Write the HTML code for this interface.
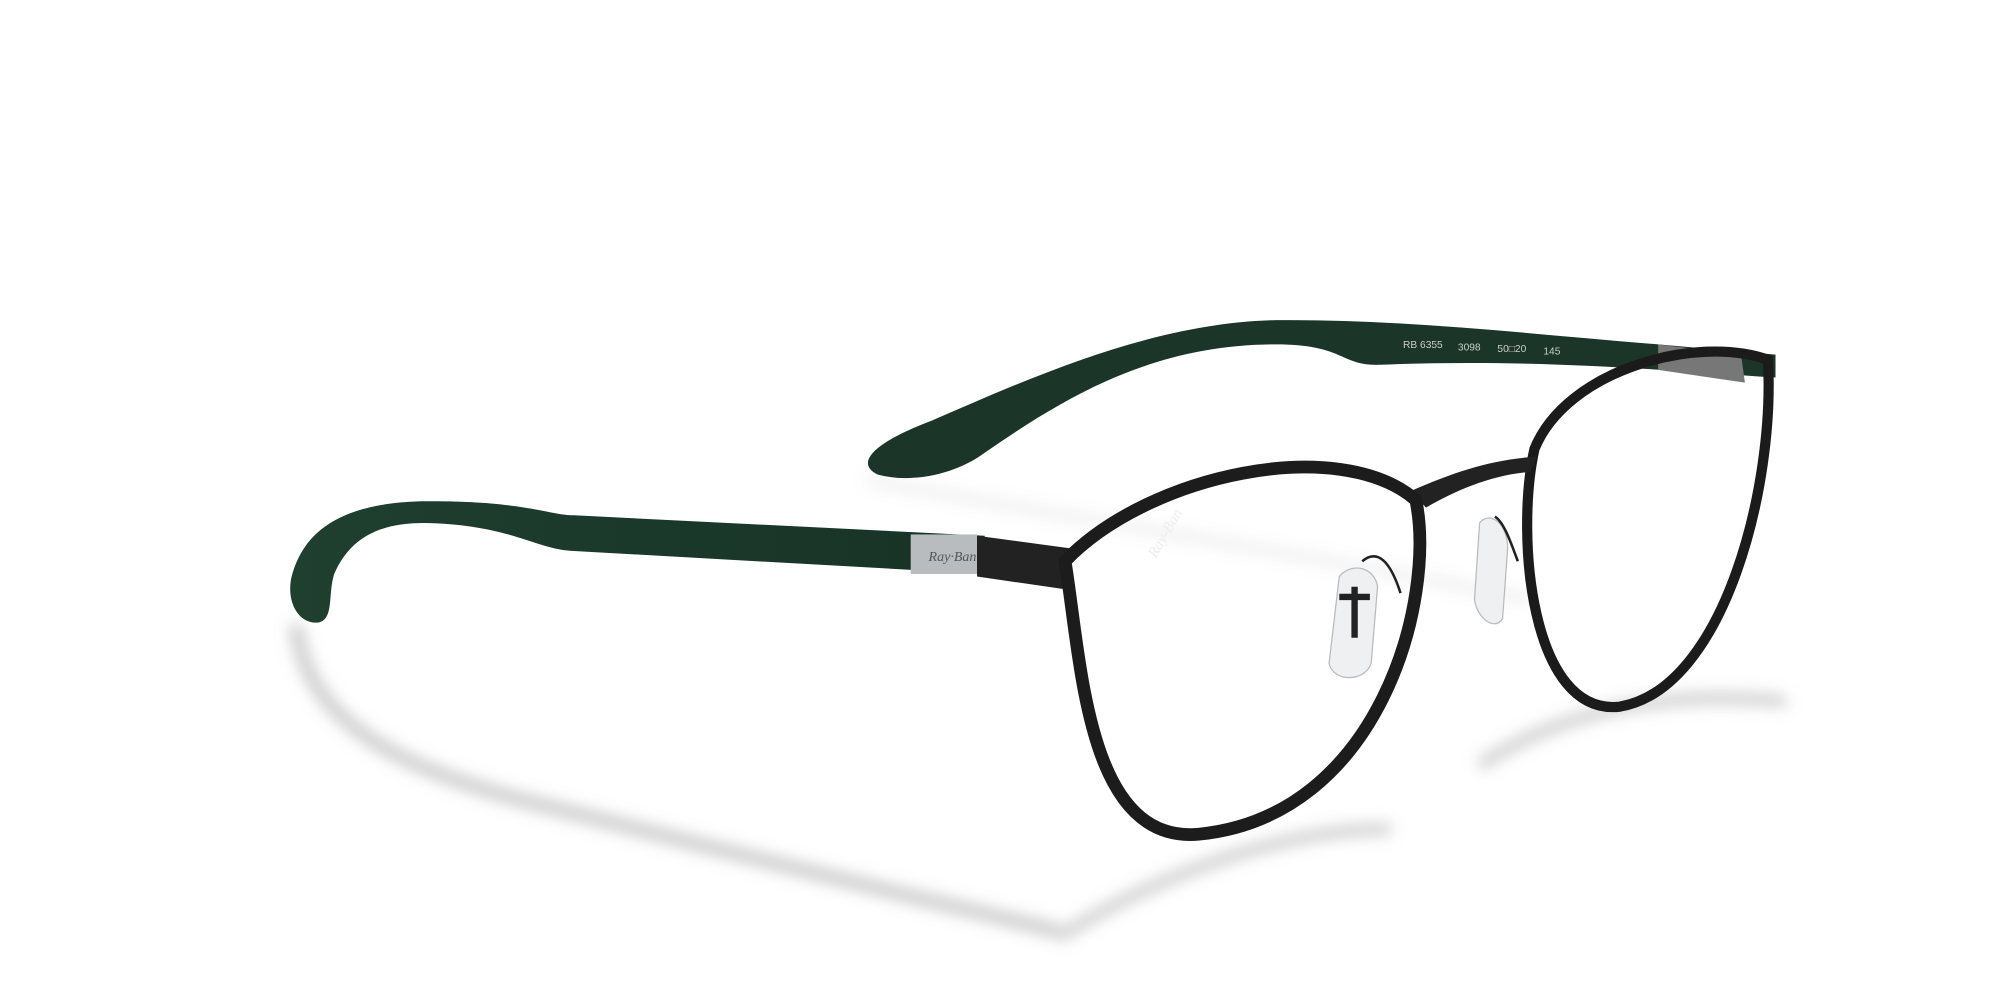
<!DOCTYPE html>
<html><head><style>html,body{margin:0;padding:0;background:#fff;}svg{display:block}</style></head>
<body>
<svg width="2000" height="1000" viewBox="0 0 1568 784" preserveAspectRatio="none" xmlns="http://www.w3.org/2000/svg">
<defs>
<filter id="b" x="-20%" y="-20%" width="140%" height="140%"><feGaussianBlur stdDeviation="6"/></filter>
<filter id="b2" x="-20%" y="-20%" width="140%" height="140%"><feGaussianBlur stdDeviation="3"/></filter>
<linearGradient id="g1" x1="0" y1="0" x2="1" y2="0"><stop offset="0" stop-color="#1f3f2f"/><stop offset="1" stop-color="#173326"/></linearGradient>
</defs>
<rect width="1568" height="784" fill="#fff"/>
<!-- shadows -->
<g filter="url(#b)" fill="none" stroke="#999" stroke-opacity="0.55">
<path d="M232 490 C240 560 300 600 420 630 C560 665 700 700 830 730" stroke-width="10"/>
<path d="M830 735 C900 690 1000 650 1090 650" stroke-width="8"/>
<path d="M1160 600 C1220 560 1300 540 1400 550" stroke-width="8"/>
<path d="M680 376 C800 400 1000 430 1200 470" stroke-width="4" stroke-opacity="0.3"/>
</g>
<!-- far temple -->
<path d="M1392 278 L1300 270 C1200 262 1100 250 1000 251 C900 253 800 300 730 330 C690 345 668 362 688 372 C718 380 752 370 772 355 C830 315 900 270 1000 270 C1055 270 1050 287 1082 286 C1200 281 1300 290 1392 296 Z" fill="#1b3628"/>
<text x="1100" y="273" font-family="Liberation Sans, sans-serif" font-size="8" fill="#ccc">RB 6355</text>
<text x="1143" y="275" font-family="Liberation Sans, sans-serif" font-size="8" fill="#ccc">3098</text>
<text x="1174" y="276" font-family="Liberation Sans, sans-serif" font-size="8" fill="#ccc">50□20</text>
<text x="1210" y="278" font-family="Liberation Sans, sans-serif" font-size="8" fill="#ccc">145</text>
<path d="M1300 270 L1365 278 L1368 300 L1300 290 Z" fill="#777"/>
<!-- right lens rim -->
<path d="M1203 352 C1228 290 1330 262 1386 282 C1392 380 1352 540 1270 554 C1200 562 1188 420 1203 352 Z" fill="none" stroke="#1b1b1b" stroke-width="8"/>
<!-- bridge -->
<path d="M1106 385 C1140 370 1170 360 1205 358 L1200 370 C1170 372 1140 385 1118 398 Z" fill="#222"/>
<!-- near temple -->
<path d="M772 420 L450 404 C430 404 410 392 330 393 C262 395 236 420 228 455 C225 475 236 490 250 488 C262 485 257 466 262 450 C275 420 300 410 332 410 C400 411 420 431 450 432 L772 450 Z" fill="url(#g1)"/>
<rect x="714" y="419" width="52" height="31" fill="#b8bcbf"/>
<text x="728" y="440" font-family="Liberation Serif, serif" font-style="italic" font-size="11" fill="#555">Ray·Ban</text>
<path d="M766 420 L840 430 L835 462 L766 452 Z" fill="#222"/>
<!-- left lens rim -->
<path d="M835 440 C900 372 1050 340 1110 392 C1126 470 1082 640 940 654 C852 662 848 520 835 440 Z" fill="none" stroke="#1c1c1c" stroke-width="10"/>
<text x="890" y="430" font-family="Liberation Serif, serif" font-style="italic" font-size="12" fill="#eee" transform="rotate(-60 905 420)">Ray-Ban</text>
<!-- nose pads -->
<path d="M1050 452 C1060 440 1078 445 1080 460 L1075 520 C1070 535 1045 535 1042 520 Z" fill="#eef0f2" stroke="#bbb" stroke-width="1"/>
<path d="M1062 460 L1062 500 M1050 468 L1074 468" stroke="#222" stroke-width="5"/>
<path d="M1068 440 C1080 430 1090 440 1098 465" stroke="#222" stroke-width="2" fill="none"/>
<path d="M1160 410 C1168 400 1182 410 1182 430 L1178 485 C1172 495 1158 485 1156 470 Z" fill="#eef0f2" stroke="#bbb" stroke-width="1"/>
<path d="M1172 405 C1180 410 1186 430 1190 440" stroke="#222" stroke-width="2" fill="none"/>
</svg>
</body></html>
